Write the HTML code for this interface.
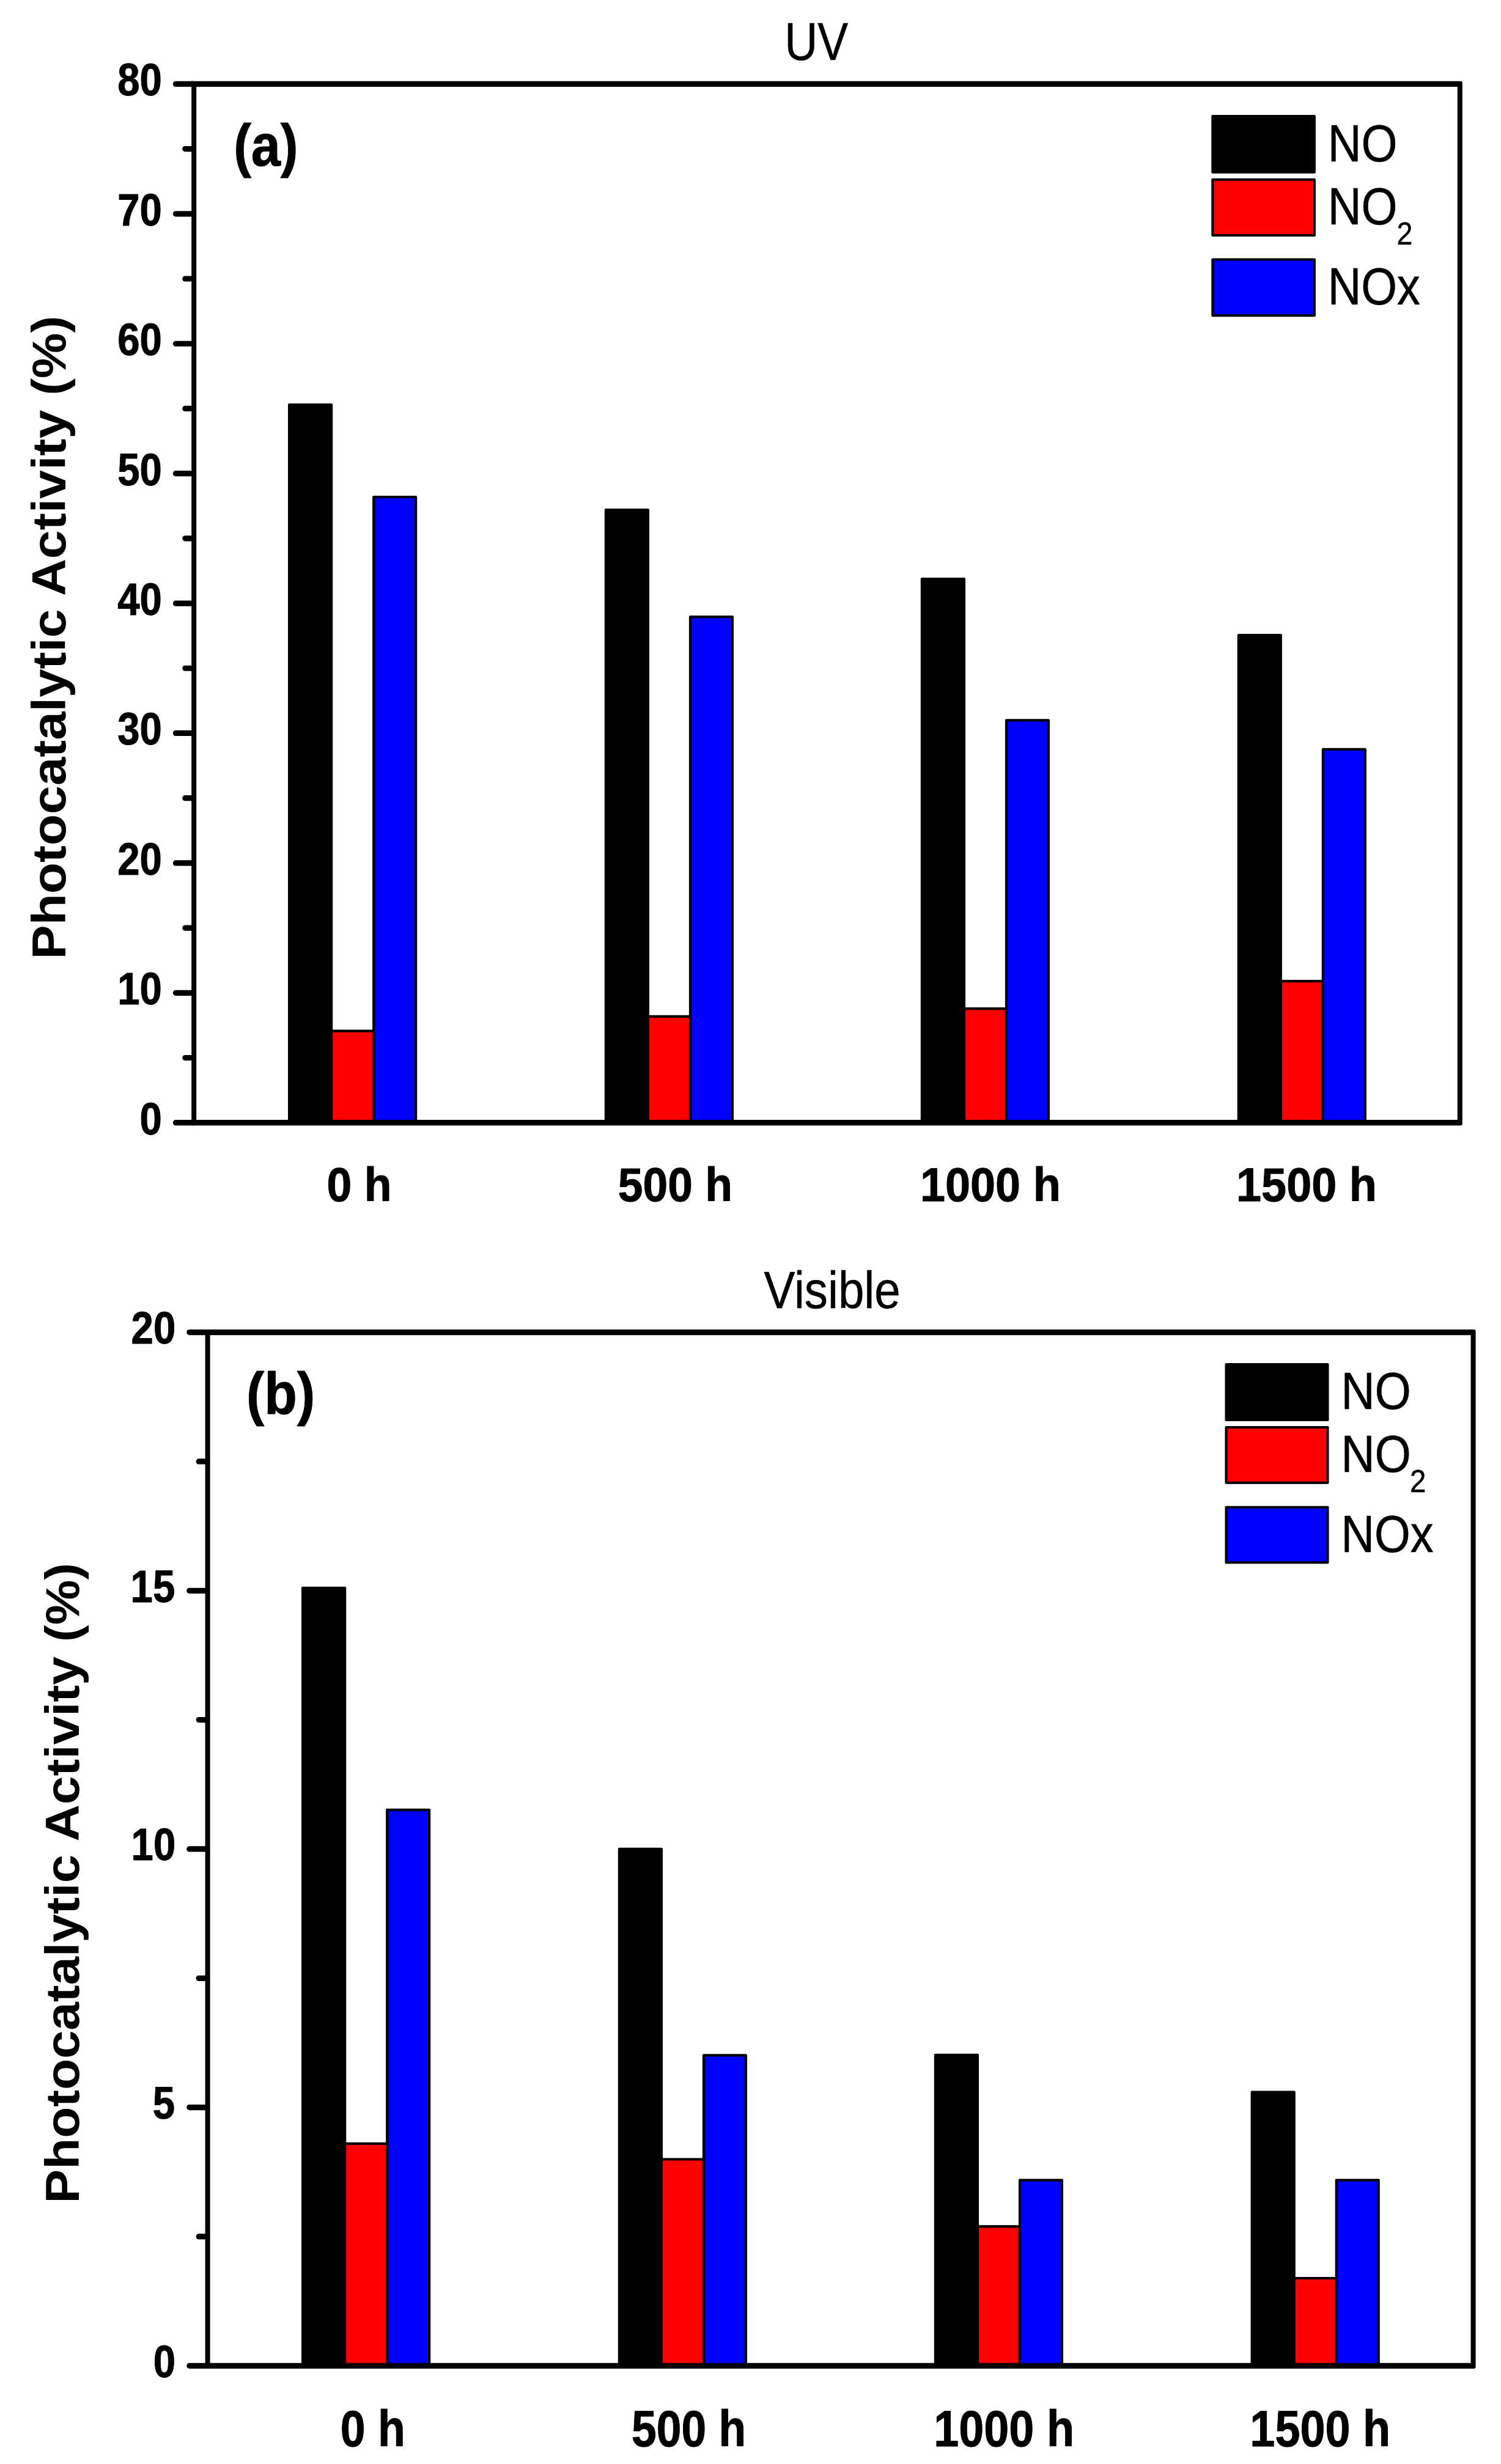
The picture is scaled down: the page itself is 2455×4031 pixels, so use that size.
<!DOCTYPE html>
<html lang="en"><head><meta charset="utf-8"><title>Photocatalytic Activity - UV and Visible</title>
<style>html,body{margin:0;padding:0;background:#fff}svg{display:block}text{font-family:"Liberation Sans",sans-serif}</style>
</head><body>
<svg width="2455" height="4031" viewBox="0 0 2455 4031">
<rect width="2455" height="4031" fill="#fff"/>
<g stroke="#000" stroke-width="4.2" stroke-linejoin="round">
<rect x="473.10" y="662.20" width="69.00" height="1174.50" fill="#000"/>
<rect x="542.10" y="1686.60" width="69.10" height="150.10" fill="#ff0000"/>
<rect x="611.20" y="813.00" width="68.90" height="1023.70" fill="#0000ff"/>
<rect x="990.90" y="834.20" width="69.00" height="1002.50" fill="#000"/>
<rect x="1059.90" y="1662.80" width="69.10" height="173.90" fill="#ff0000"/>
<rect x="1129.00" y="1009.20" width="68.90" height="827.50" fill="#0000ff"/>
<rect x="1507.90" y="947.00" width="69.00" height="889.70" fill="#000"/>
<rect x="1576.90" y="1650.10" width="69.10" height="186.60" fill="#ff0000"/>
<rect x="1646.00" y="1178.30" width="68.90" height="658.40" fill="#0000ff"/>
<rect x="2025.80" y="1039.20" width="69.00" height="797.50" fill="#000"/>
<rect x="2094.80" y="1605.20" width="69.10" height="231.50" fill="#ff0000"/>
<rect x="2163.90" y="1225.80" width="68.90" height="610.90" fill="#0000ff"/>
</g>
<path d="M313.20,132.80 H2388.80 A3.0,3.0 0 0 1 2391.80,135.80 V1838.30 A3.0,3.0 0 0 1 2388.80,1841.30 H313.20 Z M321.20,142.00 V1832.10 H2383.80 V142.00 Z" fill="#000" fill-rule="evenodd"/>
<g stroke="#000" stroke-linecap="round" fill="none" stroke-width="9.2">
<line x1="287.40" y1="1836.70" x2="316.20" y2="1836.70"/>
<line x1="287.40" y1="1624.29" x2="316.20" y2="1624.29"/>
<line x1="287.40" y1="1411.88" x2="316.20" y2="1411.88"/>
<line x1="287.40" y1="1199.46" x2="316.20" y2="1199.46"/>
<line x1="287.40" y1="987.05" x2="316.20" y2="987.05"/>
<line x1="287.40" y1="774.64" x2="316.20" y2="774.64"/>
<line x1="287.40" y1="562.23" x2="316.20" y2="562.23"/>
<line x1="287.40" y1="349.81" x2="316.20" y2="349.81"/>
<line x1="287.40" y1="137.40" x2="316.20" y2="137.40"/>
<line x1="302.80" y1="1730.49" x2="316.20" y2="1730.49"/>
<line x1="302.80" y1="1518.08" x2="316.20" y2="1518.08"/>
<line x1="302.80" y1="1305.67" x2="316.20" y2="1305.67"/>
<line x1="302.80" y1="1093.26" x2="316.20" y2="1093.26"/>
<line x1="302.80" y1="880.84" x2="316.20" y2="880.84"/>
<line x1="302.80" y1="668.43" x2="316.20" y2="668.43"/>
<line x1="302.80" y1="456.02" x2="316.20" y2="456.02"/>
<line x1="302.80" y1="243.61" x2="316.20" y2="243.61"/>
</g>
<g font-family="Liberation Sans, sans-serif" fill="#000">
<text transform="translate(228.43,1855.70) scale(0.8850,1)" font-size="73.77" font-weight="bold" stroke="#000" stroke-width="1.0" stroke-linejoin="round">0</text>
<text transform="translate(192.20,1643.29) scale(0.8850,1)" font-size="73.77" font-weight="bold" stroke="#000" stroke-width="1.0" stroke-linejoin="round">10</text>
<text transform="translate(192.20,1430.88) scale(0.8850,1)" font-size="73.77" font-weight="bold" stroke="#000" stroke-width="1.0" stroke-linejoin="round">20</text>
<text transform="translate(192.20,1218.46) scale(0.8850,1)" font-size="73.77" font-weight="bold" stroke="#000" stroke-width="1.0" stroke-linejoin="round">30</text>
<text transform="translate(192.20,1006.05) scale(0.8850,1)" font-size="73.77" font-weight="bold" stroke="#000" stroke-width="1.0" stroke-linejoin="round">40</text>
<text transform="translate(192.20,793.64) scale(0.8850,1)" font-size="73.77" font-weight="bold" stroke="#000" stroke-width="1.0" stroke-linejoin="round">50</text>
<text transform="translate(192.20,581.23) scale(0.8850,1)" font-size="73.77" font-weight="bold" stroke="#000" stroke-width="1.0" stroke-linejoin="round">60</text>
<text transform="translate(192.20,368.81) scale(0.8850,1)" font-size="73.77" font-weight="bold" stroke="#000" stroke-width="1.0" stroke-linejoin="round">70</text>
<text transform="translate(192.20,156.40) scale(0.8850,1)" font-size="73.77" font-weight="bold" stroke="#000" stroke-width="1.0" stroke-linejoin="round">80</text>
<text transform="translate(534.53,1964.50) scale(0.9401,1)" font-size="78.07" font-weight="bold" stroke="#000" stroke-width="1.0" stroke-linejoin="round">0 h</text>
<text transform="translate(1010.77,1964.50) scale(0.9370,1)" font-size="78.07" font-weight="bold" stroke="#000" stroke-width="1.0" stroke-linejoin="round">500 h</text>
<text transform="translate(1504.98,1964.50) scale(0.9454,1)" font-size="78.07" font-weight="bold" stroke="#000" stroke-width="1.0" stroke-linejoin="round">1000 h</text>
<text transform="translate(2022.08,1964.50) scale(0.9454,1)" font-size="78.07" font-weight="bold" stroke="#000" stroke-width="1.0" stroke-linejoin="round">1500 h</text>
<text transform="translate(1283.24,98.30) scale(0.8591,1)" font-size="87.14" font-weight="normal" stroke="#000" stroke-width="0.6" stroke-linejoin="round">UV</text>
<text transform="translate(382.13,270.84) scale(0.8897,1)" font-size="96.97" font-weight="bold" stroke="#000" stroke-width="1.0" stroke-linejoin="round">(a)</text>
<text transform="translate(106.50,1569.25) rotate(-90) scale(1.0786,1)" font-size="77.68" font-weight="bold">Photocatalytic</text>
<text transform="translate(106.50,975.01) rotate(-90) scale(1.0845,1)" font-size="77.68" font-weight="bold">Activity</text>
<text transform="translate(106.50,646.78) rotate(-90) scale(1.0767,1)" font-size="77.68" font-weight="bold">(%)</text>
</g>
<g stroke="#000" stroke-width="4" stroke-linejoin="round">
<rect x="1983.30" y="190.10" width="166.60" height="91.70" fill="#000"/>
<rect x="1983.30" y="293.80" width="166.60" height="91.10" fill="#ff0000"/>
<rect x="1983.30" y="424.60" width="166.60" height="91.70" fill="#0000ff"/>
</g>
<g font-family="Liberation Sans, sans-serif" fill="#000">
<text transform="translate(2171.69,263.50) scale(0.8861,1)" font-size="85.64" font-weight="normal" stroke="#000" stroke-width="0.6" stroke-linejoin="round">NO</text>
<text transform="translate(2171.69,367.00) scale(0.8861,1)" font-size="85.64" font-weight="normal" stroke="#000" stroke-width="0.6" stroke-linejoin="round">NO</text>
<text transform="translate(2284.57,400.10) scale(0.9118,1)" font-size="51.10" stroke="#000" stroke-width="0.5">2</text>
<text transform="translate(2171.72,498.00) scale(0.8818,1)" font-size="85.64" font-weight="normal" stroke="#000" stroke-width="0.6" stroke-linejoin="round">NOx</text>
</g>
<g stroke="#000" stroke-width="4.2" stroke-linejoin="round">
<rect x="495.10" y="2597.90" width="69.00" height="1272.40" fill="#000"/>
<rect x="564.10" y="3506.90" width="69.10" height="363.40" fill="#ff0000"/>
<rect x="633.20" y="2960.90" width="68.90" height="909.40" fill="#0000ff"/>
<rect x="1012.90" y="3024.90" width="69.00" height="845.40" fill="#000"/>
<rect x="1081.90" y="3532.50" width="69.10" height="337.80" fill="#ff0000"/>
<rect x="1151.00" y="3362.40" width="68.90" height="507.90" fill="#0000ff"/>
<rect x="1529.90" y="3361.90" width="69.00" height="508.40" fill="#000"/>
<rect x="1598.90" y="3642.30" width="69.10" height="228.00" fill="#ff0000"/>
<rect x="1668.00" y="3566.60" width="68.90" height="303.70" fill="#0000ff"/>
<rect x="2047.70" y="3422.70" width="69.00" height="447.60" fill="#000"/>
<rect x="2116.70" y="3727.00" width="69.10" height="143.30" fill="#ff0000"/>
<rect x="2185.80" y="3566.60" width="68.90" height="303.70" fill="#0000ff"/>
</g>
<path d="M335.60,2175.00 H2410.60 A3.0,3.0 0 0 1 2413.60,2178.00 V3871.90 A3.0,3.0 0 0 1 2410.60,3874.90 H335.60 Z M343.60,2184.20 V3865.70 H2405.60 V2184.20 Z" fill="#000" fill-rule="evenodd"/>
<g stroke="#000" stroke-linecap="round" fill="none" stroke-width="9.2">
<line x1="309.80" y1="3870.30" x2="338.60" y2="3870.30"/>
<line x1="309.80" y1="3447.62" x2="338.60" y2="3447.62"/>
<line x1="309.80" y1="3024.95" x2="338.60" y2="3024.95"/>
<line x1="309.80" y1="2602.28" x2="338.60" y2="2602.28"/>
<line x1="309.80" y1="2179.60" x2="338.60" y2="2179.60"/>
<line x1="325.20" y1="3658.96" x2="338.60" y2="3658.96"/>
<line x1="325.20" y1="3236.29" x2="338.60" y2="3236.29"/>
<line x1="325.20" y1="2813.61" x2="338.60" y2="2813.61"/>
<line x1="325.20" y1="2390.94" x2="338.60" y2="2390.94"/>
</g>
<g font-family="Liberation Sans, sans-serif" fill="#000">
<text transform="translate(250.83,3888.80) scale(0.8850,1)" font-size="73.77" font-weight="bold" stroke="#000" stroke-width="1.0" stroke-linejoin="round">0</text>
<text transform="translate(249.86,3466.12) scale(0.8850,1)" font-size="73.77" font-weight="bold" stroke="#000" stroke-width="1.0" stroke-linejoin="round">5</text>
<text transform="translate(214.60,3043.45) scale(0.8850,1)" font-size="73.77" font-weight="bold" stroke="#000" stroke-width="1.0" stroke-linejoin="round">10</text>
<text transform="translate(213.62,2620.78) scale(0.8850,1)" font-size="73.77" font-weight="bold" stroke="#000" stroke-width="1.0" stroke-linejoin="round">15</text>
<text transform="translate(214.60,2198.10) scale(0.8850,1)" font-size="73.77" font-weight="bold" stroke="#000" stroke-width="1.0" stroke-linejoin="round">20</text>
<text transform="translate(556.80,4002.40) scale(0.8730,1)" font-size="84.07" font-weight="bold" stroke="#000" stroke-width="1.0" stroke-linejoin="round">0 h</text>
<text transform="translate(1033.04,4002.40) scale(0.8701,1)" font-size="84.07" font-weight="bold" stroke="#000" stroke-width="1.0" stroke-linejoin="round">500 h</text>
<text transform="translate(1527.24,4002.40) scale(0.8779,1)" font-size="84.07" font-weight="bold" stroke="#000" stroke-width="1.0" stroke-linejoin="round">1000 h</text>
<text transform="translate(2044.34,4002.40) scale(0.8779,1)" font-size="84.07" font-weight="bold" stroke="#000" stroke-width="1.0" stroke-linejoin="round">1500 h</text>
<text transform="translate(1249.39,2140.30) scale(0.9001,1)" font-size="84.74" font-weight="normal" stroke="#000" stroke-width="0.6" stroke-linejoin="round">Visible</text>
<text transform="translate(403.06,2312.66) scale(0.9061,1)" font-size="96.86" font-weight="bold" stroke="#000" stroke-width="1.0" stroke-linejoin="round">(b)</text>
<text transform="translate(128.90,3604.42) rotate(-90) scale(1.0744,1)" font-size="77.68" font-weight="bold">Photocatalytic</text>
<text transform="translate(128.90,3012.49) rotate(-90) scale(1.0777,1)" font-size="77.68" font-weight="bold">Activity</text>
<text transform="translate(128.90,2685.95) rotate(-90) scale(1.0688,1)" font-size="77.68" font-weight="bold">(%)</text>
</g>
<g stroke="#000" stroke-width="4" stroke-linejoin="round">
<rect x="2005.50" y="2232.00" width="166.00" height="91.10" fill="#000"/>
<rect x="2005.50" y="2335.10" width="166.00" height="90.60" fill="#ff0000"/>
<rect x="2005.50" y="2465.70" width="166.00" height="90.60" fill="#0000ff"/>
</g>
<g font-family="Liberation Sans, sans-serif" fill="#000">
<text transform="translate(2193.47,2305.10) scale(0.8904,1)" font-size="85.64" font-weight="normal" stroke="#000" stroke-width="0.6" stroke-linejoin="round">NO</text>
<text transform="translate(2193.47,2408.20) scale(0.8904,1)" font-size="85.64" font-weight="normal" stroke="#000" stroke-width="0.6" stroke-linejoin="round">NO</text>
<text transform="translate(2305.93,2441.30) scale(0.9290,1)" font-size="51.10" stroke="#000" stroke-width="0.5">2</text>
<text transform="translate(2193.52,2538.80) scale(0.8825,1)" font-size="85.64" font-weight="normal" stroke="#000" stroke-width="0.6" stroke-linejoin="round">NOx</text>
</g>
</svg>
</body></html>
